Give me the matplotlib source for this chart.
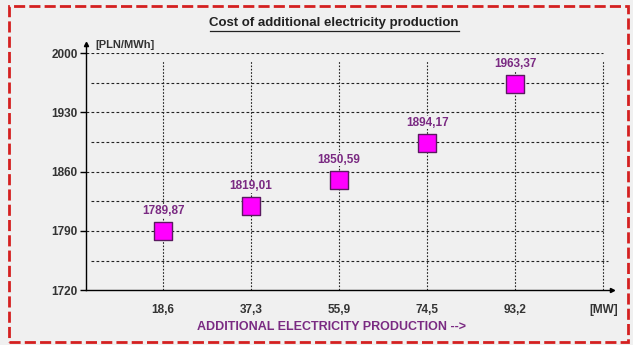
import matplotlib.pyplot as plt
from matplotlib.patches import Rectangle

# data
categories = ['18,6', '37,3', '55,9', '74,5', '93,2']
costs = [1789.87, 1819.01, 1850.59, 1894.17, 1963.37]
value_labels = ['1789,87', '1819,01', '1850,59', '1894,17', '1963,37']
y_ticks = [1720, 1790, 1860, 1930, 2000]
y_minor = [1755, 1825, 1895, 1965]

purple = '#7a2a82'
plt.rcParams['font.family'] = ['Liberation Sans', 'DejaVu Sans']

fig = plt.figure(figsize=(6.33, 3.45), dpi=100, facecolor='#f0f0f0')
ax = fig.add_axes([0.1359, 0.159, 0.831, 0.687])
ax.set_facecolor('#f0f0f0')

pos = list(range(1, len(categories) + 1))
ax.set_xlim(0.124, 6.1)
ax.set_ylim(1720, 2000)

# grid
for y in y_ticks[1:]:
    ax.plot([0.124, 6.0], [y, y], color='#222222', lw=0.8, ls=(0, (2.5, 2)), zorder=1)
for y in y_minor:
    ax.plot([0.18, 6.05], [y, y], color='#222222', lw=0.8, ls=(0, (2.5, 2)), zorder=1)
for x in pos + [6]:
    ax.plot([x, x], [1720, 1992], color='#222222', lw=0.8, ls=(0, (1.5, 1.5)), zorder=1)

ax.scatter(pos, costs, marker='s', s=160, color='#ff00ff', edgecolor='#5a1a60', lw=1, zorder=3)
for x, y, t in zip(pos, costs, value_labels):
    ax.annotate(t, (x, y), xytext=(0, 10), textcoords='offset points', ha='center', va='bottom',
                color=purple, fontsize=8.5, fontweight='bold', zorder=4,
                bbox=dict(boxstyle='square,pad=0.05', fc='#f0f0f0', ec='none'))

ax.set_xticks(pos + [6])
ax.set_xticklabels(categories + ['[MW]'], fontsize=8.5, fontweight='bold', color='#333333')
ax.set_yticks(y_ticks)
ax.set_yticklabels([str(v) for v in y_ticks], fontsize=8.5, fontweight='bold', color='#333333')
ax.tick_params(axis='x', length=0, pad=10)
ax.tick_params(axis='y', length=4, width=1, pad=2)
for s in ['top', 'right']:
    ax.spines[s].set_visible(False)
for s in ['left', 'bottom']:
    ax.spines[s].set_linewidth(1)

# axis arrows
ax.plot(1, 0, '>k', ms=3, transform=ax.transAxes, clip_on=False)
ax.plot(0, 1.04, '^k', ms=3, transform=ax.transAxes, clip_on=False)
ax.plot([0, 0], [1, 1.04], color='black', lw=1, transform=ax.transAxes, clip_on=False)

fig.text(0.528, 0.934, 'Cost of additional electricity production', ha='center', va='center',
         fontsize=9.5, fontweight='bold', color='#222222')
fig.add_artist(plt.Line2D([0.331, 0.725], [0.91, 0.91], color='#222222', lw=0.9))
fig.text(0.150, 0.870, '[PLN/MWh]', ha='left', va='center', fontsize=8, fontweight='bold', color='#333333')
fig.text(0.523, 0.052, 'ADDITIONAL ELECTRICITY PRODUCTION -->', ha='center', va='center',
         fontsize=9, fontweight='bold', color=purple)

fig.add_artist(Rectangle((0.014, 0.01), 0.978, 0.972, transform=fig.transFigure, fill=False,
                         ec='#d42020', lw=2, ls=(0, (4, 1.5))))

plt.savefig('out.png', dpi=100, facecolor=fig.get_facecolor())
